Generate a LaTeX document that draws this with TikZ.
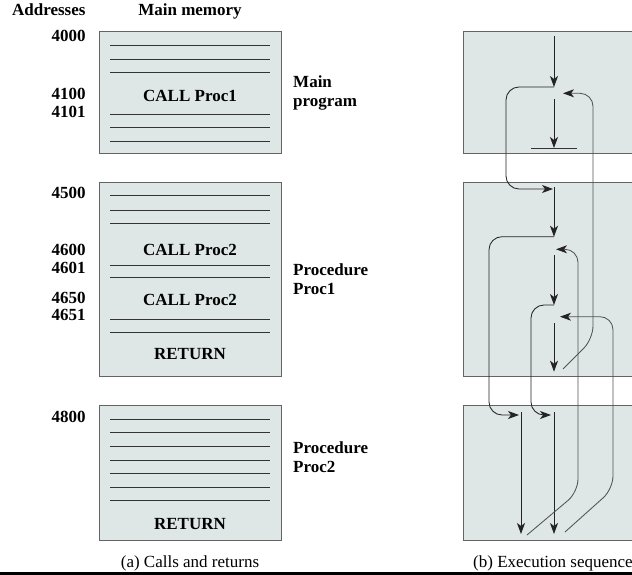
\documentclass[tikz,border=0pt]{standalone}
\usepackage{fontspec}
\setmainfont{Liberation Serif}
\usetikzlibrary{arrows.meta}
\definecolor{memfill}{RGB}{222,231,229}
\definecolor{memedge}{RGB}{100,100,100}
\definecolor{flowline}{RGB}{35,35,35}
\tikzset{
  membox/.style={draw=memedge, fill=memfill, line width=0.9pt, inner sep=0pt},
  word/.style={inner sep=0pt, font=\fontsize{17}{19}\selectfont\bfseries},
  addr/.style={word, anchor=base east},
  instr/.style={word, anchor=base},
  sidelabel/.style={word, anchor=west, align=left},
  capt/.style={inner sep=0pt, font=\fontsize{17}{19}\selectfont, anchor=base},
  memrule/.style={draw=black!80, line width=0.8pt},
  flow/.style={-{Stealth[length=11pt, width=8pt, inset=3pt, color=flowline]}, draw=flowline, line width=0.85pt},
  callflow/.style={flow, rounded corners=13pt},
  retflow/.style={flow, draw=black!68, rounded corners=13pt}
}

\begin{document}
\begin{tikzpicture}[x=1pt, y=-1pt]
  \useasboundingbox (0,0) rectangle (632,575);

  % (a) memory layout
  \node[membox, minimum width=182pt, minimum height=121.3pt] (mainmem) at (190,92.35) {};
  \node[membox, minimum width=182pt, minimum height=193.7pt] (proc1mem) at (190,279.15) {};
  \node[membox, minimum width=182pt, minimum height=134.3pt] (proc2mem) at (190,472.85) {};

  \foreach \y in {45.7,59.3,72.7,114,127.7,141,195.7,210,223.3,265,277.7,319,332.3,419,432.3,446.7,460,473.3,487.3,500.7} {
    \draw[memrule] (110,\y) -- (270,\y);
  }

  \node[addr] (addrhead) at (85.7,15.7) {Addresses};
  \node[instr] (memhead) at (190,15.7) {Main memory};
  \foreach \a/\y in {4000/42,4100/100,4101/117.3,4500/198.3,4600/255.7,4601/273.7,4650/303.3,4651/320.7,4800/422.3} {
    \node[addr] (a\a) at (85.7,\y) {\a};
  }

  \node[instr] (call1) at (190,101.7) {CALL Proc1};
  \node[instr] (call2a) at (190,255.7) {CALL Proc2};
  \node[instr] (call2b) at (190,305) {CALL Proc2};
  \node[instr] (ret1) at (190,359) {RETURN};
  \node[instr] (ret2) at (190,529.3) {RETURN};

  \node[sidelabel] (mainlbl) at (293,93) {Main\\program};
  \node[sidelabel] (proc1lbl) at (293,279) {Procedure\\Proc1};
  \node[sidelabel] (proc2lbl) at (293,456.7) {Procedure\\Proc2};

  \node[capt] (capa) at (190,567.5) {(a) Calls and returns};

  % (b) execution sequence
  \node[membox, minimum width=240pt, minimum height=121.3pt] (mainrun) at (583,92.35) {};
  \node[membox, minimum width=240pt, minimum height=193.7pt] (proc1run) at (583,279.15) {};
  \node[membox, minimum width=240pt, minimum height=134.3pt] (proc2run) at (583,472.85) {};

  \coordinate (m0) at (554,36);
  \coordinate (m1) at (554,87);
  \coordinate (m2) at (554,99);
  \coordinate (m3) at (554,148);
  \coordinate (mback) at (563,93.3);
  \coordinate (p0) at (553,189);
  \coordinate (p1s) at (554,187);
  \coordinate (p1) at (554,236.7);
  \coordinate (pback1) at (556,249.3);
  \coordinate (p2s) at (554,255);
  \coordinate (p2) at (554,305);
  \coordinate (pback2) at (560,316.7);
  \coordinate (p3s) at (554,323.3);
  \coordinate (p3) at (554,371.7);
  \coordinate (pret) at (563,369);
  \coordinate (q0) at (519,415);
  \coordinate (q0s) at (521,412);
  \coordinate (q0e) at (521,534);
  \coordinate (q0ret) at (527,535);
  \coordinate (q1) at (551,415);
  \coordinate (q1s) at (554,412);
  \coordinate (q1e) at (554,534);
  \coordinate (q1ret) at (565,532);

  \draw[flow] (m0) -- (m1);
  \draw[flow] (m2) -- (m3);
  \draw[memrule] ([xshift=-23pt]m3) -- ([xshift=23pt]m3);
  \draw[callflow] (m1) -| (506,140) |- (p0);

  \draw[flow] (p1s) -- (p1);
  \draw[callflow] (p1) -| (489,330) |- (q0);
  \draw[flow] (p2s) -- (p2);
  \draw[callflow] (p2) -| (531,360) |- (q1);
  \draw[flow] (p3s) -- (p3);

  \draw[flow] (q0s) -- (q0e);
  \draw[flow] (q1s) -- (q1e);

  \draw[retflow] (pret) -- (593,339) |- (mback);
  \draw[retflow] (q0ret) -- (578,492) |- (pback1);
  \draw[retflow] (q1ret) -- (613,489) |- (pback2);

  \node[capt, anchor=base west] (capb) at (473,567.5) {(b) Execution sequence};

  \fill[black] (0,572) rectangle (632,575);
\end{tikzpicture}
\end{document}
